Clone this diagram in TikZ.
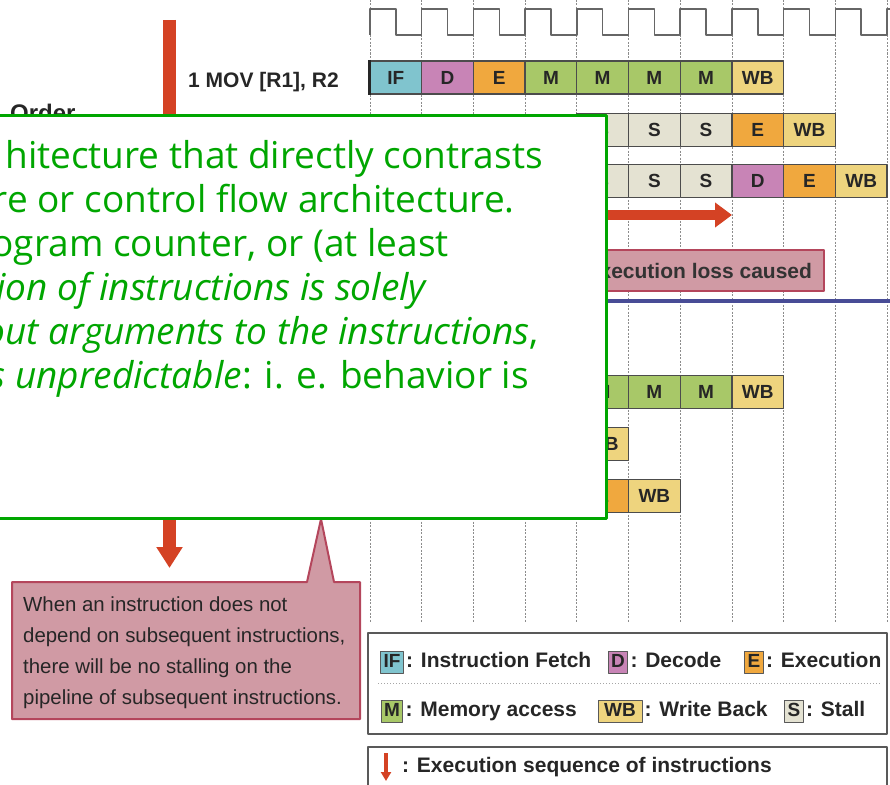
\documentclass[tikz,border=0pt]{standalone}
\usepackage{fontspec}
\setmainfont{Liberation Sans}
\newfontfamily\wikifont{Open Sans}
\usetikzlibrary{arrows.meta,positioning}

\definecolor{ifcol}{RGB}{128,196,206}
\definecolor{dcol}{RGB}{200,132,182}
\definecolor{ecol}{RGB}{240,168,62}
\definecolor{mcol}{RGB}{168,200,104}
\definecolor{wbcol}{RGB}{238,212,126}
\definecolor{scol}{RGB}{228,226,210}
\definecolor{seqred}{RGB}{212,66,36}
\definecolor{notepink}{RGB}{208,154,164}
\definecolor{noteedge}{RGB}{180,70,92}
\definecolor{barblue}{RGB}{72,76,150}
\definecolor{wikigreen}{RGB}{0,166,0}

\newcommand{\pxsize}[1]{\fontsize{#1}{#1}\selectfont}

\begin{document}
\begin{tikzpicture}[x=1pt,y=-1pt,line join=round,
 gridline/.style={black!45,line width=0.8pt,dash pattern=on 2pt off 1.5pt},
 clock/.style={black!60,line width=1.5pt},
 stage/.style={draw=black!70,line width=1.3pt,minimum width=51.7pt,minimum height=33pt,inner sep=0pt,font=\pxsize{19}\bfseries,text=black!85},
 lbl/.style={inner sep=0pt,anchor=base west,text=black!85},
 seqarrow/.style={draw=seqred,line width=13pt,-{Triangle[length=21pt,width=25pt]}},
 lossarrow/.style={draw=seqred,line width=10pt,-{Triangle[length=17pt,width=24pt]}},
 lossbox/.style={fill=notepink,draw=noteedge,line width=2pt,minimum height=41pt,inner xsep=12pt,font=\pxsize{21}\bfseries,text=black!80},
 bluebar/.style={draw=barblue,line width=3.5pt},
 wikibox/.style={draw=wikigreen,fill=white,line width=3pt},
 wikiline/.style={inner sep=0pt,anchor=base east,font=\wikifont\pxsize{37},text=wikigreen},
 note/.style={fill=notepink,draw=noteedge,line width=2pt},
 notetext/.style={inner sep=0pt,align=left,anchor=north west,font=\fontsize{20.4}{31}\selectfont,text=black!85},
 legendbox/.style={draw=black!65,line width=1.5pt},
 legendsep/.style={draw=black!35,line width=1pt,dotted},
 key/.style={draw=black!65,line width=1pt,minimum width=19pt,minimum height=22pt,inner xsep=3pt,inner ysep=0pt,text height=15pt,text depth=4pt,font=\pxsize{19}\bfseries,text=black!85},
 keytext/.style={inner sep=0pt,text height=15pt,text depth=4pt,font=\pxsize{21}\bfseries,text=black!85},
 keyarrow/.style={draw=seqred,line width=4pt,-{Triangle[length=9pt,width=10pt]}}]
\useasboundingbox (0,0) rectangle (890,784);

% clock cycles
\foreach \i in {0,...,10}
  \draw[gridline] (370+51.7*\i,0) -- (370+51.7*\i,622);
\draw[clock] (370,35) foreach \i in {1,...,10} {-- ++(0,-26) -- ++(25.85,0) -- ++(0,26) -- ++(25.85,0)} -- ++(0,-26) -- ++(6,0);

% order of instructions
\node[lbl,font=\pxsize{24}\bfseries] (order) at (10,121) {Order};
\coordinate (seqtop) at (169.5,20);
\coordinate (seqtip) at (169.5,568);
\draw[seqarrow] (seqtop) -- (seqtip);
\node[lbl,font=\pxsize{21}\bfseries] (ins1) at (188,87) {1 MOV [R1], R2};

% pipeline with stalls
\foreach \col/\st/\fc [count=\k] in {0/IF/ifcol,1/D/dcol,2/E/ecol,3/M/mcol,4/M/mcol,5/M/mcol,6/M/mcol,7/WB/wbcol}
  \node[stage,fill=\fc] (ra\k) at (395.85+51.7*\col,77.5) {\st};
\draw[black!85,line width=3pt] (ra1.north west) -- (ra1.south west);
\foreach \col/\st/\fc [count=\k] in {4/S/scol,5/S/scol,6/S/scol,7/E/ecol,8/WB/wbcol}
  \node[stage,fill=\fc] (rb\k) at (395.85+51.7*\col,130) {\st};
\foreach \col/\st/\fc [count=\k] in {4/S/scol,5/S/scol,6/S/scol,7/D/dcol,8/E/ecol,9/WB/wbcol}
  \node[stage,fill=\fc] (rc\k) at (395.85+51.7*\col,181) {\st};

\coordinate (lossfrom) at (480,215);
\coordinate (lossto) at (732,215);
\draw[lossarrow] (lossfrom) -- (lossto);
\node[lossbox,anchor=east] (loss) at (825,270.5) {Execution loss caused};

\draw[bluebar] (0,301) -- (890,301);

% pipeline without stalls
\foreach \col/\st/\fc [count=\k] in {4/M/mcol,5/M/mcol,6/M/mcol,7/WB/wbcol}
  \node[stage,fill=\fc] (rd\k) at (395.85+51.7*\col,392) {\st};
\node[stage,fill=wbcol] (re1) at (395.85+51.7*4,444) {WB};
\node[stage,fill=ecol] (rf1) at (395.85+51.7*4,496) {E};
\node[stage,fill=wbcol] (rf2) at (395.85+51.7*5,496) {WB};

% callout
\draw[note] (12,582) -- (307,582) -- (321,519) -- (334,582) -- (360,582) -- (360,719) -- (12,719) -- cycle;
\node[notetext] (notetxt) at (23,597) {When an instruction does not\\depend on subsequent instructions,\\there will be no stalling on the\\pipeline of subsequent instructions.};

% overlay box
\draw[wikibox] (-20,115) rectangle (606,518);
\node[wikiline] (w1) at (543,168) {hitecture that directly contrasts};
\node[wikiline] (w2) at (515,212) {re or control flow architecture.};
\node[wikiline] (w3) at (449,256) {ogram counter, or (at least};
\node[wikiline] (w4) at (428,300) {\textit{ion of instructions is solely}};
\node[wikiline] (w5) at (539,344) {\textit{out arguments to the instructions},};
\node[wikiline] (w6) at (529,388) {\textit{s unpredictable}: i. e. behavior is};

% legend
\draw[legendbox] (368,633) rectangle (887,734);
\draw[legendsep] (378,683) -- (880,683);
\node[key,fill=ifcol] (kif) at (392,662) {IF};
\node[keytext,right=2pt of kif] (tif) {: Instruction Fetch};
\node[key,fill=dcol] (kd) at (618,662) {D};
\node[keytext,right=2pt of kd] (td) {: Decode};
\node[key,fill=ecol] (ke) at (754,662) {E};
\node[keytext,right=2pt of ke] (te) {: Execution};
\node[key,fill=mcol] (km) at (392,711) {M};
\node[keytext,right=2pt of km] (tm) {: Memory access};
\node[key,fill=wbcol,minimum width=44pt] (kwb) at (620,711) {WB};
\node[keytext,right=2pt of kwb] (twb) {: Write Back};
\node[key,fill=scol] (ks) at (794,711) {S};
\node[keytext,right=2pt of ks] (ts) {: Stall};

\draw[legendbox] (368,747) rectangle (887,800);
\coordinate (keytop) at (386,753);
\coordinate (keytip) at (386,781);
\draw[keyarrow] (keytop) -- (keytip);
\node[keytext,anchor=west] (tseq) at (402,767) {: Execution sequence of instructions};
\end{tikzpicture}
\end{document}
